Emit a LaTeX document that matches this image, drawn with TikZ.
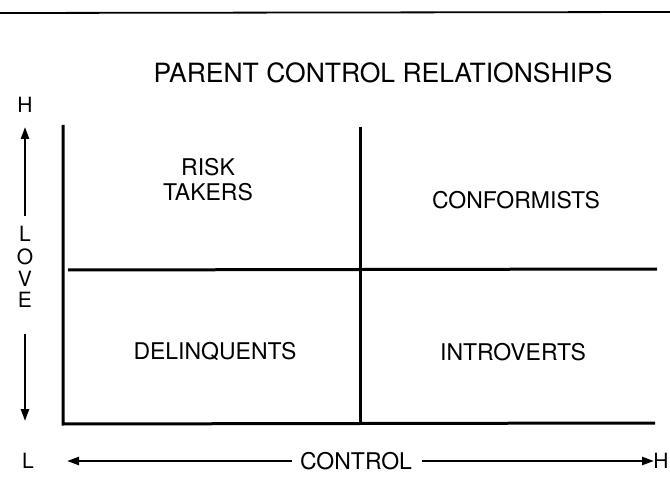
\documentclass[tikz,border=0pt]{standalone}
\usepackage{fontspec}
\setmainfont{TeX Gyre Heros}
\usetikzlibrary{arrows.meta}
\tikzset{
  frame/.style={line width=3pt},
  axis/.style={line width=2.4pt,-{Triangle[length=12pt,width=8pt]}},
  lab/.style={font=\fontsize{23}{25}\selectfont,inner sep=0pt,align=center},
  letter/.style={font=\fontsize{21}{24}\selectfont,inner sep=0pt},
  ttl/.style={font=\fontsize{26.5}{30}\selectfont,inner sep=0pt}
}
\begin{document}
\begin{tikzpicture}[x=1pt,y=-1pt]
\useasboundingbox (0,0) rectangle (670,500);
% top rule
\coordinate (rl) at (0,13);
\coordinate (rr) at (670,12);
\draw[line width=1.8pt] (rl) -- (rr);
% title
\node[ttl] (title) at (383,73) {PARENT CONTROL RELATIONSHIPS};
% frame lines
\coordinate (lt) at (63,125);
\coordinate (lb) at (63,424);
\coordinate (mt) at (360,127);
\coordinate (mb) at (360,424);
\coordinate (hl) at (68,270);
\coordinate (hr) at (657,269);
\coordinate (br) at (655,423);
\draw[frame] (lt) -- (lb) -- (br);
\draw[frame] (mt) -- (mb);
\draw[frame] (hl) -- (hr);
% quadrant labels
\node[lab] (risk) at (208,180) {RISK\\TAKERS};
\node[lab] (conf) at (516,200) {CONFORMISTS};
\node[lab] (delq) at (215,352) {DELINQUENTS};
\node[lab] (intr) at (513,352) {INTROVERTS};
% love axis
\node[letter] (hT) at (25,105) {H};
\node[letter] (lL) at (25,234) {L};
\node[letter] (lO) at (25,257) {O};
\node[letter] (lV) at (25,279) {V};
\node[letter] (lE) at (25,300) {E};
\node[letter] (lB) at (28,461) {L};
\coordinate (upS) at (25,216);
\coordinate (upT) at (25,127);
\coordinate (dnS) at (25,334);
\coordinate (dnT) at (25,421);
\draw[axis] (upS) -- (upT);
\draw[axis] (dnS) -- (dnT);
% control axis
\node[lab] (ctrl) at (356,461) {CONTROL};
\node[letter] (hR) at (661,461) {H};
\coordinate (cl) at (67,461);
\coordinate (cr) at (654,461);
\draw[axis] (ctrl.west) ++(-8,0) -- (cl);
\draw[axis] (ctrl.east) ++(10,0) -- (cr);
\end{tikzpicture}
\end{document}
